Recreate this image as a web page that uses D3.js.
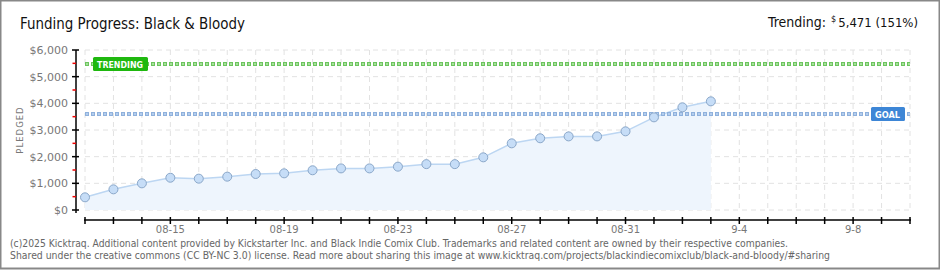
<!DOCTYPE html>
<html>
<head>
<meta charset="utf-8">
<script src="https://cdn.jsdelivr.net/npm/d3@7"></script>
<style>
  body { margin: 0; background: #fff; }
  svg { display: block; }
  text { font-family: "DejaVu Sans", sans-serif; }
  .narrow { font-stretch: condensed; }
</style>
</head>
<body>
<svg id="chart" width="940" height="270"></svg>
<script>
// chart data
const dates = ["2025-08-12","2025-08-13","2025-08-14","2025-08-15","2025-08-16","2025-08-17","2025-08-18",
  "2025-08-19","2025-08-20","2025-08-21","2025-08-22","2025-08-23","2025-08-24","2025-08-25","2025-08-26",
  "2025-08-27","2025-08-28","2025-08-29","2025-08-30","2025-08-31","2025-09-01","2025-09-02","2025-09-03"];
const pledged = [475, 775, 1000, 1210, 1175, 1250, 1350, 1375, 1490, 1560, 1560, 1625, 1720, 1720, 1975,
  2500, 2690, 2760, 2760, 2950, 3475, 3850, 4075];
const goal = 3600;
const trending = 5471;
const yTicks = [0, 1000, 2000, 3000, 4000, 5000, 6000];
const xLabelDates = ["2025-08-15","2025-08-19","2025-08-23","2025-08-27","2025-08-31","2025-09-04","2025-09-08"];
const xDomain = ["2025-08-12", "2025-09-10"];

const parse = d3.utcParse("%Y-%m-%d");
const svg = d3.select("#chart");

const x = d3.scaleUtc().domain(xDomain.map(parse)).range([85, 910]);
const y = d3.scaleLinear().domain([0, 6000]).range([210, 50]);
const days = d3.utcDay.range(parse(xDomain[0]), d3.utcDay.offset(parse(xDomain[1]), 1));

// frame
svg.append("rect").attr("x", 0.5).attr("y", 0.5).attr("width", 939).attr("height", 268)
  .attr("fill", "#fff").attr("stroke", "#888").attr("stroke-width", 2);

// title
svg.append("text").attr("x", 20).attr("y", 29).attr("font-size", 16).attr("fill", "#111")
  .attr("textLength", 225).attr("lengthAdjust", "spacingAndGlyphs")
  .text("Funding Progress: Black & Bloody");

// trending header (three pieces so the small $ sits raised)
svg.append("text").attr("class", "narrow").attr("x", 826).attr("y", 27).attr("text-anchor", "end")
  .attr("font-size", 14).attr("fill", "#111").text("Trending:");
svg.append("text").attr("class", "narrow").attr("x", 831).attr("y", 22).attr("font-size", 9)
  .attr("fill", "#111").text("$");
svg.append("text").attr("class", "narrow").attr("x", 918).attr("y", 27).attr("text-anchor", "end")
  .attr("font-size", 13).attr("fill", "#111")
  .text(d3.format(",")(trending) + " (151%)");

// grid
const grid = svg.append("g").attr("stroke", "#e2e2e2").attr("stroke-dasharray", "5,4");
grid.selectAll(".h").data(yTicks).enter().append("line")
  .attr("x1", 85).attr("x2", 910).attr("y1", d => y(d)).attr("y2", d => y(d));
grid.selectAll(".v").data(days).enter().append("line")
  .attr("x1", d => x(d)).attr("x2", d => x(d)).attr("y1", y(6000)).attr("y2", y(0));

// area + line
const pts = dates.map((d, i) => ({ date: parse(d), v: pledged[i] }));
svg.append("path").datum(pts)
  .attr("fill", "#eef5fd")
  .attr("d", d3.area().x(d => x(d.date)).y0(y(0)).y1(d => y(d.v)));
svg.append("path").datum(pts)
  .attr("fill", "none").attr("stroke", "#bcd6f2").attr("stroke-width", 1.5)
  .attr("d", d3.line().x(d => x(d.date)).y(d => y(d.v)));

// goal + trending lines
function refLine(val, color, edge) {
  svg.append("line").attr("x1", 85).attr("x2", 910).attr("y1", y(val)).attr("y2", y(val))
    .attr("stroke", edge).attr("stroke-width", 4).attr("stroke-dasharray", "4,2");
  svg.append("line").attr("x1", 86).attr("x2", 910).attr("y1", y(val)).attr("y2", y(val))
    .attr("stroke", color).attr("stroke-width", 2).attr("stroke-dasharray", "2,4");
}
refLine(goal, "#b3cdee", "#8fb1dc");
refLine(trending, "#a6e09a", "#6cc45e");

// points
svg.append("g").selectAll("circle").data(pts).enter().append("circle")
  .attr("cx", d => x(d.date)).attr("cy", d => y(d.v)).attr("r", 4.5)
  .attr("fill", "#c6ddf7").attr("stroke", "#8aa7c9").attr("stroke-width", 1);

// labels on ref lines
function tag(x0, w, val, fill, label) {
  svg.append("rect").attr("x", x0).attr("y", y(val) - 7).attr("width", w).attr("height", 14)
    .attr("rx", 1.5).attr("fill", fill);
  svg.append("text").attr("x", x0 + 4).attr("y", y(val) + 3.5).attr("font-size", 9)
    .attr("font-weight", "bold").attr("fill", "#fff")
    .attr("textLength", w - 9).attr("lengthAdjust", "spacingAndGlyphs").text(label);
}
tag(93, 55, trending, "#1fb80f", "TRENDING");
tag(871, 34, goal, "#3d86d6", "GOAL");

// y axis
const ya = svg.append("g");
ya.append("line").attr("x1", 76).attr("x2", 76).attr("y1", y(6000)).attr("y2", 213)
  .attr("stroke", "#000").attr("stroke-width", 1.5);
ya.selectAll(".maj").data(yTicks).enter().append("line")
  .attr("x1", 72).attr("x2", 79).attr("y1", d => y(d)).attr("y2", d => y(d))
  .attr("stroke", "#000").attr("stroke-width", 1.5);
ya.selectAll(".min").data(yTicks.slice(0, -1).map(d => d + 500)).enter().append("line")
  .attr("x1", 72.5).attr("x2", 76).attr("y1", d => y(d)).attr("y2", d => y(d))
  .attr("stroke", "#e00").attr("stroke-width", 1.5);
ya.selectAll("text").data(yTicks).enter().append("text")
  .attr("x", 68).attr("y", d => y(d) + 4).attr("text-anchor", "end")
  .attr("font-size", 11).attr("fill", "#777").text(d => "$" + d3.format(",")(d));
svg.append("text").attr("transform", "translate(23,130) rotate(-90)").attr("text-anchor", "middle")
  .attr("font-size", 8.5).attr("letter-spacing", 1).attr("fill", "#777").text("PLEDGED");

// x axis
const xa = svg.append("g");
xa.append("line").attr("x1", 84).attr("x2", 911).attr("y1", 220).attr("y2", 220)
  .attr("stroke", "#000").attr("stroke-width", 1.5);
xa.selectAll(".t").data(days).enter().append("line")
  .attr("x1", d => x(d)).attr("x2", d => x(d)).attr("y1", 217).attr("y2", 224)
  .attr("stroke", "#000").attr("stroke-width", 1.5);
const fmt = d => d.getUTCMonth() === 7 ? d3.utcFormat("%m-%d")(d) : (d.getUTCMonth() + 1) + "-" + d.getUTCDate();
xa.selectAll("text").data(xLabelDates.map(parse)).enter().append("text")
  .attr("x", d => x(d)).attr("y", 233).attr("text-anchor", "middle")
  .attr("font-size", 10).attr("fill", "#777").text(fmt);

// footer
svg.append("text").attr("x", 10).attr("y", 247).attr("font-size", 10).attr("fill", "#666")
  .attr("textLength", 778).attr("lengthAdjust", "spacingAndGlyphs")
  .text("(c)2025 Kicktraq. Additional content provided by Kickstarter Inc. and Black Indie Comix Club. Trademarks and related content are owned by their respective companies.");
svg.append("text").attr("x", 10).attr("y", 259).attr("font-size", 10).attr("fill", "#666")
  .attr("textLength", 820).attr("lengthAdjust", "spacingAndGlyphs")
  .text("Shared under the creative commons (CC BY-NC 3.0) license. Read more about sharing this image at www.kicktraq.com/projects/blackindiecomixclub/black-and-bloody/#sharing");
</script>
</body>
</html>
